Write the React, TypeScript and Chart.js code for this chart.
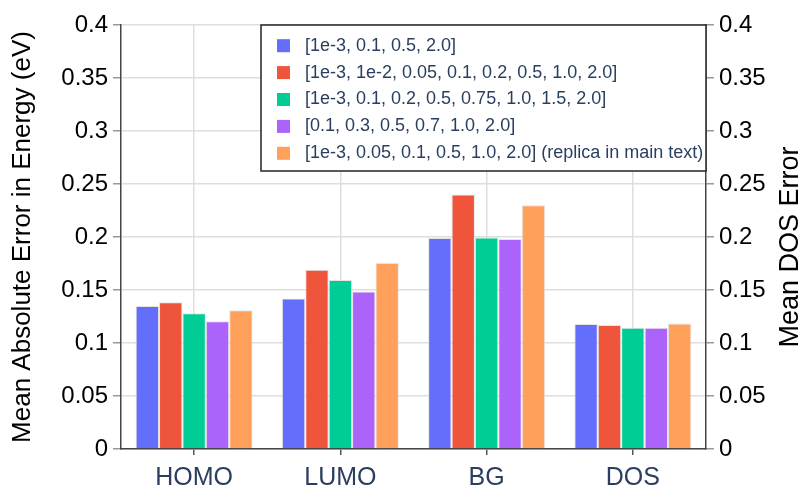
import React, { useEffect, useRef } from "react";
import { Chart, registerables } from "chart.js";

Chart.register(...registerables);

const categories = ["HOMO", "LUMO", "BG", "DOS"];

const seriesLabels = [
  "[1e-3, 0.1, 0.5, 2.0]",
  "[1e-3, 1e-2, 0.05, 0.1, 0.2, 0.5, 1.0, 2.0]",
  "[1e-3, 0.1, 0.2, 0.5, 0.75, 1.0, 1.5, 2.0]",
  "[0.1, 0.3, 0.5, 0.7, 1.0, 2.0]",
  "[1e-3, 0.05, 0.1, 0.5, 1.0, 2.0] (replica in main text)",
];

const series1 = [0.135, 0.142, 0.199, 0.118];
const series2 = [0.1385, 0.169, 0.24, 0.117];
const series3 = [0.128, 0.1595, 0.1995, 0.1145];
const series4 = [0.1205, 0.1485, 0.198, 0.1145];
const series5 = [0.131, 0.1755, 0.23, 0.1183];

const seriesColors = ["#636efa", "#EF553B", "#00cc96", "#ab63fa", "#FFA15A"];

const yTickValues = [0, 0.05, 0.1, 0.15, 0.2, 0.25, 0.3, 0.35, 0.4];
const yTickLabels = ["0", "0.05", "0.1", "0.15", "0.2", "0.25", "0.3", "0.35", "0.4"];

const leftTitle = "Mean Absolute Error in Energy (eV)";
const rightTitle = "Mean DOS Error";

const FONT = "'Liberation Sans', Arial, Helvetica, sans-serif";

const boxLegend = {
  id: "boxLegend",
  afterDraw(chart: any) {
    const ctx = chart.ctx;
    const x0 = 261, y0 = 25, x1 = 706, y1 = 171;
    ctx.save();
    ctx.fillStyle = "#ffffff";
    ctx.fillRect(x0, y0, x1 - x0, y1 - y0);
    ctx.strokeStyle = "#222222";
    ctx.lineWidth = 1.5;
    ctx.strokeRect(x0, y0, x1 - x0, y1 - y0);
    ctx.font = `18px ${FONT}`;
    ctx.textBaseline = "middle";
    ctx.textAlign = "left";
    chart.data.datasets.forEach((ds: any, i: number) => {
      const cy = 45.7 + i * 26.9;
      ctx.fillStyle = ds.backgroundColor;
      ctx.fillRect(277, cy - 6.5, 13, 13);
      ctx.fillStyle = "#2a3f5f";
      ctx.fillText(ds.label, 305, cy);
    });
    ctx.restore();
  },
};

const rightAxisTitle = {
  id: "rightAxisTitle",
  afterDraw(chart: any) {
    const ctx = chart.ctx;
    ctx.save();
    ctx.translate(791, 247);
    ctx.rotate(-Math.PI / 2);
    ctx.font = `27px ${FONT}`;
    ctx.fillStyle = "#000";
    ctx.textAlign = "center";
    ctx.textBaseline = "middle";
    ctx.fillText(rightTitle, 0, 0);
    ctx.restore();
  },
};

export default function App() {
  const ref = useRef<HTMLCanvasElement>(null);

  useEffect(() => {
    if (!ref.current) return;
    const allSeries = [series1, series2, series3, series4, series5];
    const chart = new Chart(ref.current, {
      type: "bar",
      data: {
        labels: categories,
        datasets: allSeries.map((d, i) => ({
          label: seriesLabels[i],
          data: d,
          backgroundColor: seriesColors[i],
          borderColor: "rgba(225,225,225,0.9)",
          borderWidth: 1,
          categoryPercentage: 0.8,
          barPercentage: 1,
          yAxisID: "y",
        })),
      },
      options: {
        animation: false,
        responsive: true,
        maintainAspectRatio: false,
        layout: { padding: { top: 25, left: 0, right: 0, bottom: 0 } },
        plugins: {
          legend: { display: false },
          tooltip: { enabled: false },
        },
        scales: {
          x: {
            type: "category",
            offset: true,
            grid: {
              offset: false,
              color: "#dedede",
              lineWidth: 1.5,
              tickLength: 6,
              tickColor: "#555",
              tickWidth: 1.5,
            },
            border: { color: "#444", width: 1.5 },
            ticks: {
              font: { size: 25, family: FONT },
              color: "#2a3f5f",
              padding: 8,
            },
            afterFit: (s: any) => {
              s.height = 42;
            },
          },
          y: {
            position: "left",
            min: 0,
            max: 0.4,
            afterBuildTicks: (s: any) => {
              s.ticks = yTickValues.map((v) => ({ value: v }));
            },
            ticks: {
              font: { size: 24, family: FONT },
              color: "#000",
              padding: 5,
              callback: (_v: any, i: number) => yTickLabels[i],
            },
            grid: {
              color: "#dedede",
              lineWidth: 1.5,
              tickLength: 8,
              tickColor: "#999",
            },
            border: { color: "#444", width: 1.5 },
            title: {
              display: true,
              text: leftTitle,
              font: { size: 26, family: FONT },
              color: "#000",
              padding: { top: 7, bottom: 0 },
            },
            afterFit: (s: any) => {
              s.width = 121;
            },
          },
          y2: {
            position: "right",
            min: 0,
            max: 0.4,
            afterBuildTicks: (s: any) => {
              s.ticks = yTickValues.map((v) => ({ value: v }));
            },
            ticks: {
              font: { size: 24, family: FONT },
              color: "#000",
              padding: 5,
              callback: (_v: any, i: number) => yTickLabels[i],
            },
            grid: {
              drawOnChartArea: false,
              tickLength: 8,
              tickColor: "#999",
              lineWidth: 1.5,
            },
            border: { color: "#444", width: 1.5 },
            title: { display: false },
            afterFit: (s: any) => {
              s.width = 101;
            },
          },
        },
      },
      plugins: [boxLegend, rightAxisTitle],
    } as any);
    return () => chart.destroy();
  }, []);

  return (
    <div style={{ position: "absolute", left: 0, top: 0, width: 807, height: 491, background: "#fff" }}>
      <canvas ref={ref} />
    </div>
  );
}
